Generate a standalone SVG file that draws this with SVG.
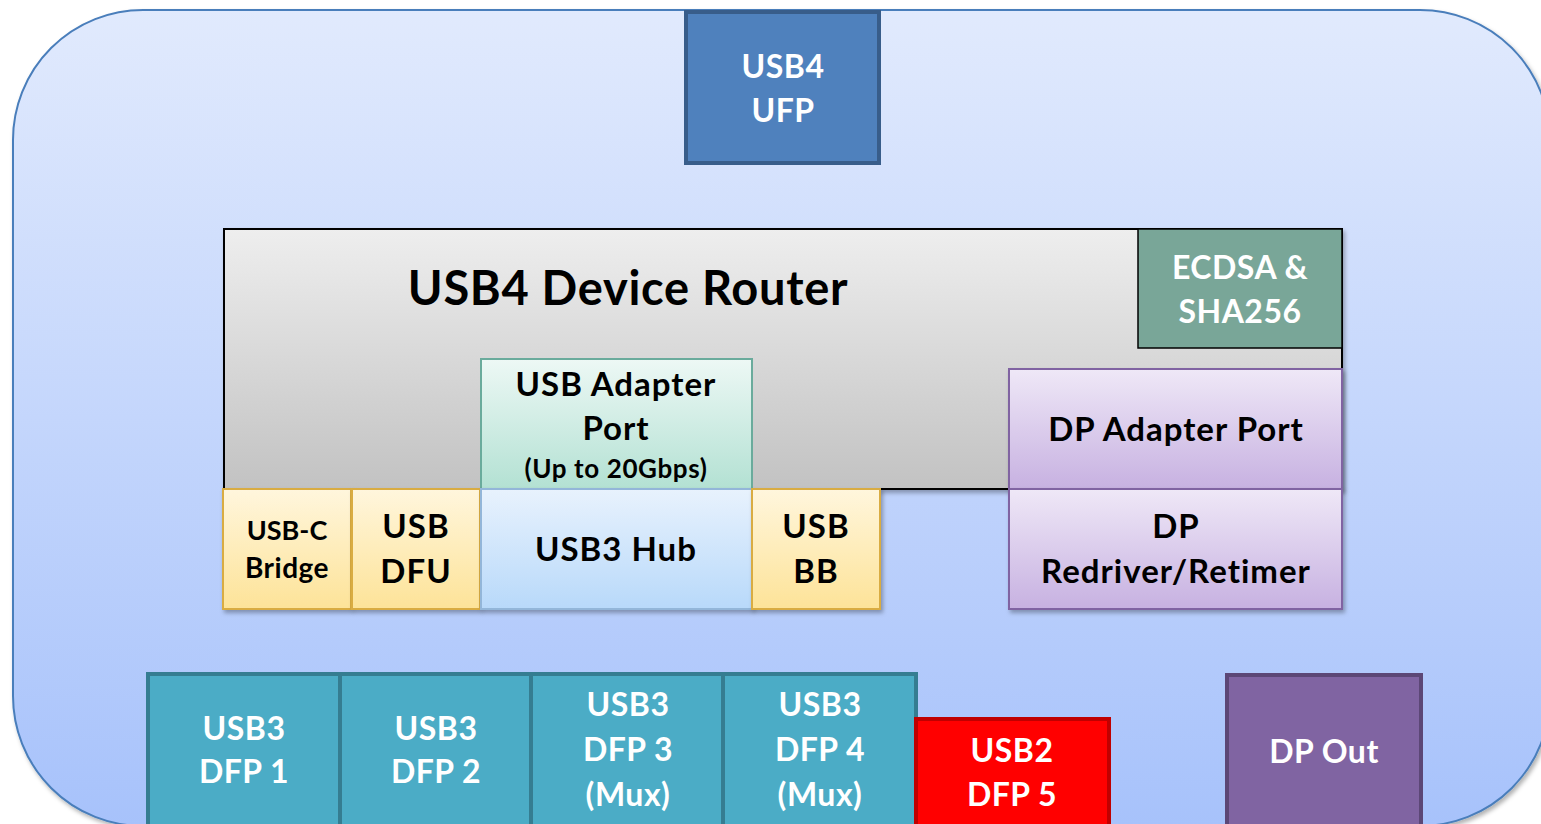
<svg xmlns="http://www.w3.org/2000/svg" width="1541" height="824" viewBox="0 0 1541 824">
<defs>
<linearGradient id="gBg" x1="0" y1="0" x2="0" y2="1"><stop offset="0" stop-color="#e1eafd"/><stop offset="1" stop-color="#a7c2fb"/></linearGradient>
<linearGradient id="gRouter" x1="0" y1="0" x2="0" y2="1"><stop offset="0" stop-color="#eeeeee"/><stop offset="1" stop-color="#c2c2c2"/></linearGradient>
<linearGradient id="gTeal" x1="0" y1="0" x2="0" y2="1"><stop offset="0" stop-color="#edf8f5"/><stop offset="1" stop-color="#b3e1d3"/></linearGradient>
<linearGradient id="gPurple" x1="0" y1="0" x2="0" y2="1"><stop offset="0" stop-color="#efe8f7"/><stop offset="1" stop-color="#c7b1e1"/></linearGradient>
<linearGradient id="gYellow" x1="0" y1="0" x2="0" y2="1"><stop offset="0" stop-color="#fff6dd"/><stop offset="1" stop-color="#fde398"/></linearGradient>
<linearGradient id="gBlue" x1="0" y1="0" x2="0" y2="1"><stop offset="0" stop-color="#e8f2fd"/><stop offset="1" stop-color="#b8d9fa"/></linearGradient>
<filter id="sh" x="-10%" y="-10%" width="130%" height="130%"><feDropShadow dx="2" dy="3" stdDeviation="2" flood-color="#000" flood-opacity="0.3"/></filter>
<style>
text{font-family:Lato,"Open Sans","Liberation Sans",sans-serif;font-weight:bold;text-anchor:middle}
.w{fill:#ffffff;font-size:32px;letter-spacing:0.5px}
.k{fill:#000000;font-size:33px;letter-spacing:1px}
.dfp{fill:#4bacc6;stroke:#357d91;stroke-width:4}
</style>
</defs>
<g id="background">
<rect x="13" y="10" width="1537" height="816" rx="130" ry="130" fill="url(#gBg)" stroke="#4a7ebb" stroke-width="2" filter="url(#sh)"/>
</g>
<g id="connectors"></g>
<g id="ufp">
<rect x="686" y="12" width="193" height="151" fill="#4f81bd" stroke="#385d8a" stroke-width="4"/>
<text class="w" x="783" y="78">USB4</text>
<text class="w" x="783" y="122">UFP</text>
</g>
<g id="router">
<rect x="224" y="229" width="1118" height="260" fill="url(#gRouter)" stroke="#000" stroke-width="2" filter="url(#sh)"/>
<text x="628" y="305" style="font-size:47px;letter-spacing:0.7px;fill:#000">USB4 Device Router</text>
</g>
<g id="ecdsa">
<rect x="1138" y="229" width="204" height="119" fill="#79a698" stroke="#000" stroke-width="1.5"/>
<text class="w" x="1240" y="279">ECDSA &amp;</text>
<text class="w" x="1240" y="323">SHA256</text>
</g>
<g id="usb-adapter-port">
<rect x="481" y="359" width="271" height="130" fill="url(#gTeal)" stroke="#6aab9c" stroke-width="2"/>
<text class="k" x="616" y="396">USB Adapter</text>
<text class="k" x="616" y="440">Port</text>
<text x="616" y="478" style="font-size:26px;letter-spacing:0.6px;fill:#000">(Up to 20Gbps)</text>
</g>
<g id="dp-adapter-port">
<rect x="1009" y="369" width="333" height="120" fill="url(#gPurple)" stroke="#8064a2" stroke-width="2" filter="url(#sh)"/>
<text class="k" x="1176" y="441">DP Adapter Port</text>
</g>
<g id="dp-redriver">
<rect x="1009" y="489" width="333" height="120" fill="url(#gPurple)" stroke="#8064a2" stroke-width="2" filter="url(#sh)"/>
<text class="k" x="1176" y="538">DP</text>
<text class="k" x="1176" y="583">Redriver/Retimer</text>
</g>
<g id="usbc-bridge">
<rect x="223" y="489" width="128" height="120" fill="url(#gYellow)" stroke="#d9ac42" stroke-width="2" filter="url(#sh)"/>
<text x="287" y="540" style="font-size:27px;fill:#000">USB-C</text>
<text x="287" y="578" style="font-size:28px;letter-spacing:0.5px;fill:#000">Bridge</text>
</g>
<g id="usb-dfu">
<rect x="352" y="489" width="128" height="120" fill="url(#gYellow)" stroke="#d9ac42" stroke-width="2" filter="url(#sh)"/>
<text class="k" x="416" y="538">USB</text>
<text class="k" x="416" y="583">DFU</text>
</g>
<g id="usb3-hub">
<rect x="481" y="489" width="271" height="120" fill="url(#gBlue)" stroke="#93b6d9" stroke-width="2" filter="url(#sh)"/>
<text class="k" x="616" y="561">USB3 Hub</text>
</g>
<g id="usb-bb">
<rect x="752" y="489" width="128" height="120" fill="url(#gYellow)" stroke="#d9ac42" stroke-width="2" filter="url(#sh)"/>
<text class="k" x="816" y="538">USB</text>
<text class="k" x="816" y="583">BB</text>
</g>
<g id="dfp1">
<rect class="dfp" x="148" y="674" width="192" height="160"/>
<text class="w" x="244" y="740">USB3</text>
<text class="w" x="244" y="783">DFP 1</text>
</g>
<g id="dfp2">
<rect class="dfp" x="340" y="674" width="191" height="160"/>
<text class="w" x="436" y="740">USB3</text>
<text class="w" x="436" y="783">DFP 2</text>
</g>
<g id="dfp3">
<rect class="dfp" x="531" y="674" width="192" height="160"/>
<text class="w" x="628" y="716">USB3</text>
<text class="w" x="628" y="761">DFP 3</text>
<text class="w" x="628" y="806">(Mux)</text>
</g>
<g id="dfp4">
<rect class="dfp" x="723" y="674" width="193" height="160"/>
<text class="w" x="820" y="716">USB3</text>
<text class="w" x="820" y="761">DFP 4</text>
<text class="w" x="820" y="806">(Mux)</text>
</g>
<g id="dfp5">
<rect x="916" y="719" width="193" height="120" fill="#ff0000" stroke="#c00000" stroke-width="4"/>
<text class="w" x="1012" y="762">USB2</text>
<text class="w" x="1012" y="806">DFP 5</text>
</g>
<g id="dp-out">
<rect x="1227" y="675" width="194" height="160" fill="#8064a2" stroke="#5c4776" stroke-width="4"/>
<text class="w" x="1324" y="763">DP Out</text>
</g>
</svg>
